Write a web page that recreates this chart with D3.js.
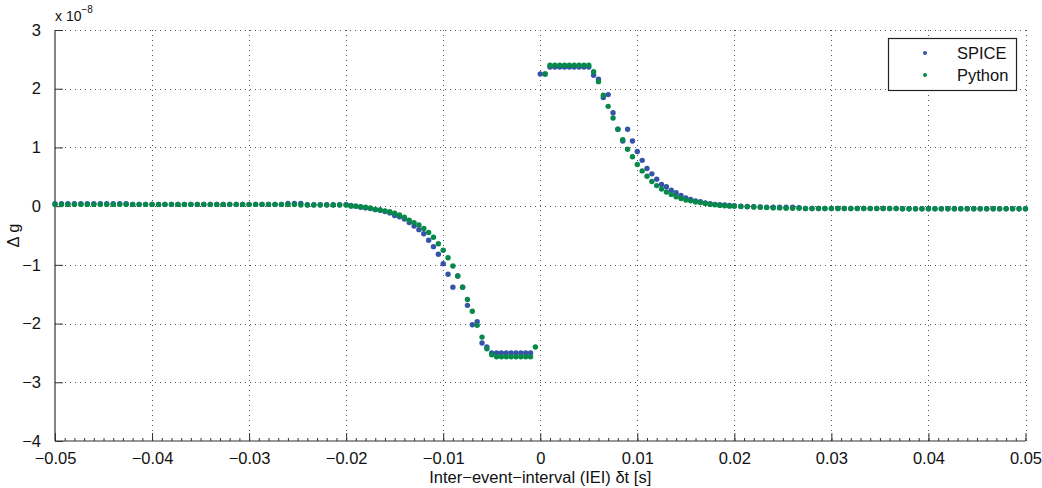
<!DOCTYPE html>
<html>
<head>
<meta charset="utf-8">
<script src="https://cdn.jsdelivr.net/npm/d3@7"></script>
<style>
  html, body { margin: 0; padding: 0; background: #fff; }
  svg { display: block; font-family: "Liberation Sans", Arial, Helvetica, sans-serif; }
</style>
</head>
<body>
<svg id="chart" width="1042" height="488"></svg>
<script>
// Inter-event interval (s)
const dt = [
  -0.05, -0.04933, -0.04867, -0.048, -0.04733, -0.04667, -0.046, -0.04533, -0.04467, -0.044,
  -0.04333, -0.04267, -0.042, -0.04133, -0.04067, -0.04, -0.03933, -0.03867, -0.038, -0.03733,
  -0.03667, -0.036, -0.03533, -0.03467, -0.034, -0.03333, -0.03267, -0.032, -0.03133, -0.03067,
  -0.03, -0.02933, -0.02867, -0.028, -0.02733, -0.02667, -0.026, -0.02533, -0.02467, -0.024,
  -0.02333, -0.02267, -0.022, -0.02133, -0.02067, -0.02,
  -0.0195, -0.019, -0.0185, -0.018, -0.0175, -0.017, -0.0165, -0.016, -0.0155, -0.015,
  -0.0145, -0.014, -0.0135, -0.013, -0.0125, -0.012, -0.0115, -0.011, -0.0105, -0.01,
  -0.0095, -0.009, -0.0085, -0.008, -0.0075, -0.007, -0.0065, -0.006, -0.0055, -0.005,
  -0.0045, -0.004, -0.0035, -0.003, -0.0025, -0.002, -0.0015, -0.001, -0.0005,
  0, 0.0005, 0.001, 0.0015, 0.002, 0.0025, 0.003, 0.0035, 0.004, 0.0045,
  0.005, 0.0055, 0.006, 0.0065, 0.007, 0.0075, 0.008, 0.0085, 0.009, 0.0095,
  0.01, 0.0105, 0.011, 0.0115, 0.012, 0.0125, 0.013, 0.0135, 0.014, 0.0145,
  0.015, 0.0155, 0.016, 0.0165, 0.017, 0.0175, 0.018, 0.0185, 0.019, 0.0195, 0.02,
  0.02067, 0.02133, 0.022, 0.02267, 0.02333, 0.024, 0.02467, 0.02533, 0.026, 0.02667,
  0.02733, 0.028, 0.02867, 0.02933, 0.03, 0.03067, 0.03133, 0.032, 0.03267, 0.03333,
  0.034, 0.03467, 0.03533, 0.036, 0.03667, 0.03733, 0.038, 0.03867, 0.03933, 0.04,
  0.04067, 0.04133, 0.042, 0.04267, 0.04333, 0.044, 0.04467, 0.04533, 0.046, 0.04667,
  0.04733, 0.048, 0.04867, 0.04933, 0.05
];

// Weight change, in units of 1e-8 (null = no sample)
const spice = [
  0.04, 0.04, 0.04, 0.04, 0.04, 0.04, 0.04, 0.04, 0.04, 0.04,
  0.04, 0.04, 0.03, 0.03, 0.03, 0.03, 0.03, 0.03, 0.03, 0.03,
  0.03, 0.03, 0.03, 0.03, 0.03, 0.03, 0.03, 0.03, 0.03, 0.03,
  0.03, 0.03, 0.03, 0.03, 0.03, 0.03, 0.045, 0.045, 0.045, 0.025,
  0.025, 0.025, 0.025, 0.025, 0.025, 0.025,
  0.01, 0.0, -0.02, -0.03, -0.04, -0.06, -0.07, -0.09, -0.115, -0.16,
  -0.18, -0.22, -0.28, -0.34, -0.40, -0.47, -0.58, -0.69, -0.82, -0.98,
  -1.16, -1.38, -1.19, -1.38, -1.69, -2.02, -1.97, -2.33, -2.40, -2.50,
  -2.50, -2.50, -2.50, -2.50, -2.50, -2.50, -2.50, -2.50, null,
  2.25, 2.25, 2.37, 2.37, 2.37, 2.37, 2.37, 2.37, 2.37, 2.37,
  2.37, 2.23, 2.16, 1.85, 1.90, 1.59, 1.31, 1.11, 1.31, 1.11,
  0.93, 0.78, 0.64, 0.55, 0.46, 0.37, 0.33, 0.27, 0.23, 0.18,
  0.14, 0.115, 0.09, 0.075, 0.053, 0.04, 0.03, 0.025, 0.02, 0.013, 0.007,
  0.0, -0.005, -0.01, -0.015, -0.02, -0.02, -0.02, -0.02, -0.02, -0.025,
  -0.04, -0.04, -0.04, -0.04, -0.04, -0.04, -0.04, -0.04, -0.04, -0.04,
  -0.04, -0.04, -0.04, -0.04, -0.04, -0.045, -0.045, -0.045, -0.045, -0.045,
  -0.045, -0.045, -0.045, -0.045, -0.045, -0.045, -0.045, -0.045, -0.045, -0.045,
  -0.045, -0.045, -0.045, -0.045, -0.045
];

const python = [
  0.03, 0.03, 0.03, 0.03, 0.03, 0.03, 0.03, 0.03, 0.03, 0.03,
  0.03, 0.03, 0.03, 0.03, 0.03, 0.03, 0.03, 0.03, 0.03, 0.03,
  0.03, 0.03, 0.03, 0.03, 0.03, 0.03, 0.03, 0.03, 0.03, 0.03,
  0.03, 0.03, 0.03, 0.03, 0.03, 0.03, 0.03, 0.03, 0.02, 0.02,
  0.02, 0.02, 0.02, 0.02, 0.02, 0.02,
  0.0, 0.0, -0.01, -0.02, -0.03, -0.055, -0.066, -0.08, -0.095, -0.12,
  -0.15, -0.19, -0.24, -0.28, -0.32, -0.38, -0.45, -0.53, -0.64, -0.75,
  -0.88, -1.02, -1.19, -1.38, -1.59, -1.79, -2.03, -2.23, -2.43, -2.53,
  -2.565, -2.565, -2.565, -2.565, -2.565, -2.565, -2.565, -2.565, -2.40,
  null, 2.25, 2.40, 2.40, 2.40, 2.40, 2.40, 2.40, 2.40, 2.40,
  2.40, 2.29, 2.12, 1.89, 1.70, 1.50, 1.31, 1.13, 0.97, 0.84,
  0.71, 0.60, 0.51, 0.42, 0.35, 0.29, 0.24, 0.20, 0.16, 0.13,
  0.105, 0.09, 0.07, 0.06, 0.047, 0.03, 0.025, 0.013, 0.007, 0.0, 0.0,
  -0.005, -0.01, -0.015, -0.02, -0.025, -0.03, -0.03, -0.035, -0.035, -0.035,
  -0.04, -0.04, -0.04, -0.04, -0.04, -0.04, -0.04, -0.04, -0.04, -0.04,
  -0.04, -0.04, -0.04, -0.04, -0.04, -0.045, -0.045, -0.045, -0.045, -0.045,
  -0.045, -0.045, -0.045, -0.045, -0.045, -0.045, -0.045, -0.045, -0.045, -0.045,
  -0.045, -0.045, -0.045, -0.045, -0.045
];

const xTicks = [-0.05, -0.04, -0.03, -0.02, -0.01, 0, 0.01, 0.02, 0.03, 0.04, 0.05];
const xTickLabels = ["\u22120.05", "\u22120.04", "\u22120.03", "\u22120.02", "\u22120.01", "0", "0.01", "0.02", "0.03", "0.04", "0.05"];
const yTicks = [-4, -3, -2, -1, 0, 1, 2, 3];
const yTickLabels = ["\u22124", "\u22123", "\u22122", "\u22121", "0", "1", "2", "3"];

const seriesNames = ["SPICE", "Python"];
const seriesColors = ["#3553a8", "#07894a"];

(function draw() {
  const svg = d3.select("#chart");
  const mLeft = 55, mRight = 1025.5, mTop = 30, mBottom = 441;
  const fontSize = "16.5px";

  const x = d3.scaleLinear().domain([-0.05, 0.05]).range([mLeft, mRight]);
  const y = d3.scaleLinear().domain([-4, 3]).range([mBottom, mTop]);

  // dotted grid
  const grid = svg.append("g").attr("stroke", "#555").attr("stroke-width", 1)
    .attr("stroke-dasharray", "1,4").attr("shape-rendering", "crispEdges");
  grid.selectAll("line.v").data(xTicks.slice(1)).join("line").attr("class", "v")
    .attr("x1", d => Math.round(x(d)) + 0.5).attr("x2", d => Math.round(x(d)) + 0.5)
    .attr("y1", mBottom).attr("y2", mTop);
  grid.selectAll("line.h").data(yTicks.slice(1)).join("line").attr("class", "h")
    .attr("y1", d => Math.round(y(d)) + 0.5).attr("y2", d => Math.round(y(d)) + 0.5)
    .attr("x1", mLeft).attr("x2", mRight);

  // axes (ticks point inward)
  const xAxis = d3.axisBottom(x).tickValues(xTicks).tickSize(-8)
    .tickFormat((d, i) => xTickLabels[i]).tickPadding(20);
  const xMinor = d3.axisBottom(x).tickValues(d3.range(-50, 51).map(v => v / 1000))
    .tickSize(-3).tickFormat("");
  const yAxis = d3.axisLeft(y).tickValues(yTicks).tickSize(-8)
    .tickFormat((d, i) => yTickLabels[i]).tickPadding(14);

  function styleAxis(g) {
    g.select(".domain").remove();
    g.selectAll("line").attr("stroke", "#333").attr("stroke-width", 1);
    g.selectAll("text").attr("fill", "#111").style("font-size", fontSize)
      .style("font-family", "'Liberation Sans', Arial, sans-serif");
  }

  svg.append("g").attr("transform", `translate(0,${mBottom})`).call(xMinor).call(styleAxis);
  const gx = svg.append("g").attr("transform", `translate(0,${mBottom})`).call(xAxis).call(styleAxis);
  gx.selectAll("text").attr("dy", "0.2em");
  svg.append("g").attr("transform", `translate(${mLeft},0)`).call(yAxis).call(styleAxis);

  // axis lines
  svg.append("line").attr("x1", mLeft).attr("x2", mRight).attr("y1", mBottom).attr("y2", mBottom)
    .attr("stroke", "#333").attr("stroke-width", 1.2);
  svg.append("line").attr("x1", mLeft).attr("x2", mLeft).attr("y1", mBottom).attr("y2", mTop)
    .attr("stroke", "#333").attr("stroke-width", 1.2);

  // exponent label
  const expo = svg.append("text").attr("x", 55).attr("y", 21).attr("fill", "#111")
    .style("font-size", "14px");
  expo.append("tspan").text("x 10");
  expo.append("tspan").attr("dy", -8).style("font-size", "10px").text("\u22128");

  // axis titles
  svg.append("text").attr("x", (mLeft + mRight) / 2).attr("y", 483).attr("text-anchor", "middle")
    .attr("fill", "#111").style("font-size", fontSize).text("Inter\u2212event\u2212interval (IEI) \u03b4t [s]");
  svg.append("text").attr("transform", `translate(19,${(mTop + mBottom) / 2}) rotate(-90)`)
    .attr("text-anchor", "middle").attr("fill", "#111").style("font-size", fontSize).text("\u0394 g");

  // data points
  [spice, python].forEach((vals, si) => {
    const pts = dt.map((t, i) => ({ t, v: vals[i] })).filter(p => p.v !== null);
    svg.append("g").selectAll("circle").data(pts).join("circle")
      .attr("cx", d => x(d.t)).attr("cy", d => y(d.v)).attr("r", 2.7)
      .attr("fill", seriesColors[si]);
  });

  // legend
  const lg = svg.append("g");
  lg.append("rect").attr("x", 888.5).attr("y", 38.5).attr("width", 128).attr("height", 52)
    .attr("fill", "#fff").attr("stroke", "#222").attr("stroke-width", 1.2);
  seriesNames.forEach((name, i) => {
    const cy = 53 + i * 22;
    lg.append("circle").attr("cx", 925).attr("cy", cy).attr("r", 2).attr("fill", seriesColors[i]);
    lg.append("text").attr("x", 957).attr("y", cy + 6).attr("fill", "#111")
      .style("font-size", fontSize).text(name);
  });
})();
</script>
</body>
</html>
